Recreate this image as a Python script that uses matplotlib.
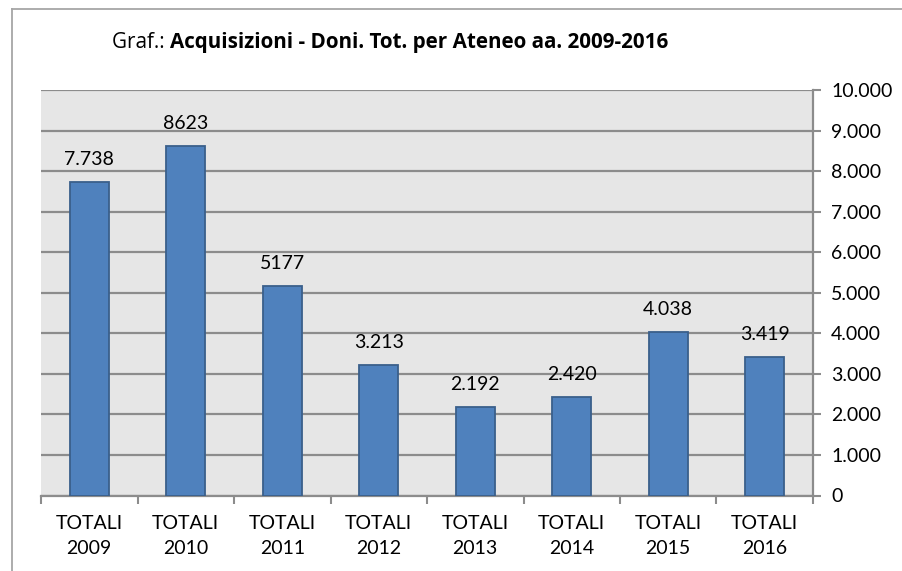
import numpy as np
import matplotlib.pyplot as plt
from matplotlib.lines import Line2D
from matplotlib.ticker import FuncFormatter, FixedLocator

plt.rcParams['font.family'] = ['Lato', 'DejaVu Sans']

# dati
anni = ["2009", "2010", "2011", "2012", "2013", "2014", "2015", "2016"]
categorie = ["TOTALI\n" + a for a in anni]
valori = [7738, 8623, 5177, 3213, 2192, 2420, 4038, 3419]
etichette = ["7.738", "8623", "5177", "3.213", "2.192", "2.420", "4.038", "3.419"]

fig = plt.figure(figsize=(9.02, 5.71), dpi=100)
ax = fig.add_axes([41/902, 1 - 495.5/571, (813 - 41)/902, (495.5 - 90)/571])

# cornice del grafico
fig.add_artist(Line2D([12/902, 12/902], [0, 1 - 9/571], color='#a6a6a6', lw=1.3))
fig.add_artist(Line2D([12/902, 1.0], [1 - 9/571, 1 - 9/571], color='#a6a6a6', lw=1.3))

x = np.arange(len(categorie))
ax.set_facecolor('#e6e6e6')
ax.bar(x, valori, width=0.4, color='#4f81bd', edgecolor='#3a5f8b', linewidth=1.3, zorder=3)

for xi, v, t in zip(x, valori, etichette):
    ax.annotate(t, (xi, v), xytext=(0, 10), textcoords='offset points',
                ha='center', va='bottom', fontsize=14, color='black')

ax.set_xlim(-0.5, len(categorie) - 0.5)
ax.set_ylim(0, 10000)
ax.yaxis.tick_right()
ax.set_yticks(np.arange(0, 10001, 1000))
ax.yaxis.set_major_formatter(FuncFormatter(lambda v, p: f"{int(v):,}".replace(",", ".")))
ax.grid(axis='y', color='#8c8c8c', lw=1.6, zorder=1)
ax.set_axisbelow(True)

ax.set_xticks(x)
ax.set_xticklabels(categorie, fontsize=14, linespacing=1.55)
ax.xaxis.set_minor_locator(FixedLocator(np.arange(-0.5, len(categorie), 1)))
ax.tick_params(axis='x', which='major', length=0, pad=14)
ax.tick_params(axis='x', which='minor', length=6, width=1.5, color='#8c8c8c', direction='out')
ax.tick_params(axis='y', length=6, width=1.5, color='#8c8c8c', direction='out', pad=7,
               labelsize=14)

for s in ['left', 'top']:
    ax.spines[s].set_visible(False)
for s in ['right', 'bottom']:
    ax.spines[s].set_color('#8c8c8c')
    ax.spines[s].set_linewidth(1.6)

# titolo con parte in grassetto
r = fig.canvas.get_renderer()
t1 = fig.text(112/902, 1 - 48/571, "Graf.: ", fontsize=14.9, va='baseline', ha='left',
              family=['Open Sans', 'DejaVu Sans'])
bb = t1.get_window_extent(renderer=r)
fig.text(bb.x1/902, 1 - 48/571, "Acquisizioni - Doni. Tot. per Ateneo aa. 2009-2016",
         fontsize=14.9, fontweight='bold', va='baseline', ha='left',
         family=['Open Sans', 'DejaVu Sans'])

fig.savefig("out.png", dpi=100)
